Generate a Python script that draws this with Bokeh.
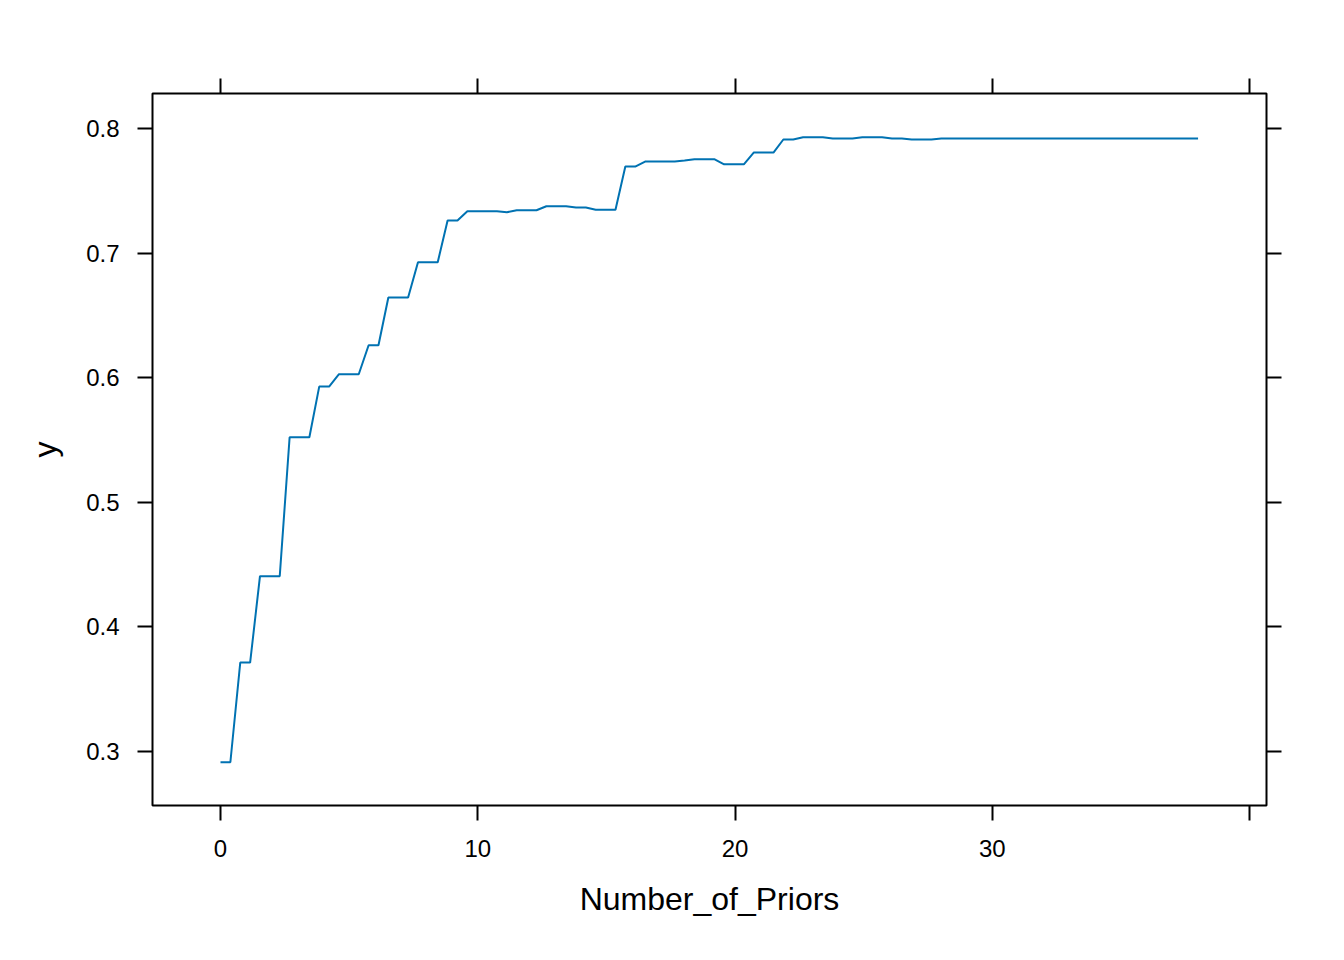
from bokeh.plotting import figure
from bokeh.models import Range1d, FixedTicker, LinearAxis
from bokeh.embed import file_html
from bokeh.resources import INLINE

# Partial-dependence curve: breakpoints of the piecewise-linear line
number_of_priors = [0.000, 0.384, 0.768, 1.152, 1.535, 2.303, 2.687, 3.455, 3.838, 4.222,
                    4.606, 5.374, 5.758, 6.141, 6.525, 7.293, 7.677, 8.444, 8.828, 9.212,
                    9.596, 10.747, 11.131, 11.515, 12.283, 12.667, 13.434, 13.818, 14.202, 14.586,
                    15.354, 15.737, 16.121, 16.505, 17.657, 18.040, 18.424, 19.192, 19.576, 20.343,
                    20.727, 21.495, 21.879, 22.263, 22.646, 23.414, 23.798, 24.566, 24.949, 25.717,
                    26.101, 26.485, 26.869, 27.636, 28.020, 38.000]
y_values = [0.2914, 0.2914, 0.3714, 0.3714, 0.4407, 0.4407, 0.5522, 0.5522, 0.5929, 0.5929,
            0.6028, 0.6028, 0.6261, 0.6261, 0.6644, 0.6644, 0.6927, 0.6927, 0.7262, 0.7262,
            0.7336, 0.7336, 0.7328, 0.7344, 0.7344, 0.7376, 0.7376, 0.7366, 0.7366, 0.7348,
            0.7348, 0.7695, 0.7695, 0.7735, 0.7735, 0.7743, 0.7754, 0.7754, 0.7713, 0.7713,
            0.7807, 0.7807, 0.7912, 0.7912, 0.7930, 0.7930, 0.7920, 0.7920, 0.7930, 0.7930,
            0.7920, 0.7920, 0.7912, 0.7912, 0.7920, 0.7920]

x_ticks = [0, 10, 20, 30, 40]
x_tick_labels = {0: "0", 10: "10", 20: "20", 30: "30", 40: ""}
y_ticks = [0.3, 0.4, 0.5, 0.6, 0.7, 0.8]

FONT = "Liberation Sans"

p = figure(width=1328, height=944, output_backend="svg", toolbar_location=None,
           x_range=Range1d(-2.643, 40.66), y_range=Range1d(0.2567, 0.8281),
           min_border_left=152, min_border_right=62, min_border_top=93, min_border_bottom=139,
           x_axis_location=None, y_axis_location=None)

p.grid.visible = False
p.outline_line_color = "black"
p.outline_line_width = 2
p.background_fill_color = "white"
p.border_fill_color = "white"

def style(ax, labels=True):
    ax.axis_line_color = None
    ax.major_tick_line_color = "black"
    ax.major_tick_line_width = 2
    ax.major_tick_out = 15
    ax.major_tick_in = 0
    ax.minor_tick_line_color = None
    ax.major_label_text_font = FONT
    ax.major_label_text_font_size = "24px"
    ax.major_label_text_color = "black"
    ax.axis_label_text_font = FONT
    ax.axis_label_text_font_size = "32px"
    ax.axis_label_text_font_style = "normal"
    ax.axis_label_text_color = "black"
    if not labels:
        ax.major_label_text_font_size = "0px"
        ax.major_label_text_color = None

bottom = LinearAxis(ticker=FixedTicker(ticks=x_ticks), major_label_overrides=x_tick_labels,
                    axis_label="Number_of_Priors")
style(bottom)
bottom.major_label_standoff = 19
bottom.axis_label_standoff = 21
p.add_layout(bottom, "below")

top = LinearAxis(ticker=FixedTicker(ticks=x_ticks))
style(top, labels=False)
p.add_layout(top, "above")

left = LinearAxis(ticker=FixedTicker(ticks=y_ticks), axis_label="y")
style(left)
left.major_label_standoff = 18
left.axis_label_standoff = 20
p.add_layout(left, "left")

right = LinearAxis(ticker=FixedTicker(ticks=y_ticks))
style(right, labels=False)
p.add_layout(right, "right")

p.line(number_of_priors, y_values, line_color="#0072B2", line_width=2)

open("out.html", "w").write(file_html(p, INLINE))
